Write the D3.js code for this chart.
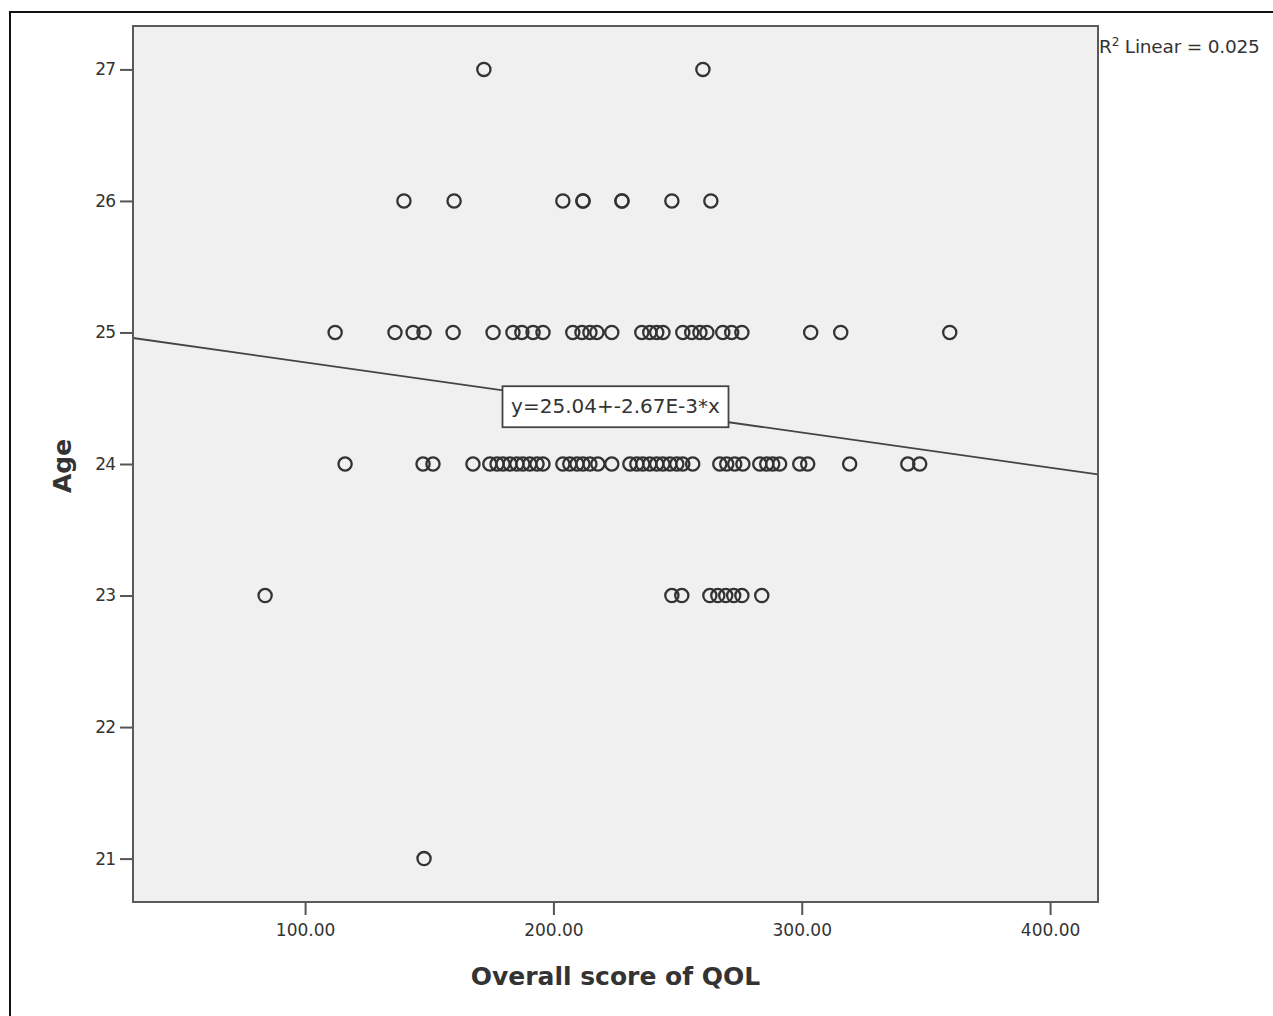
<!DOCTYPE html>
<html>
<head>
<meta charset="utf-8">
<script src="https://cdn.jsdelivr.net/npm/d3@7"></script>
<style>
  body { margin: 0; background: #fff; }
  text { font-family: "DejaVu Sans", sans-serif; fill: #333; }
</style>
</head>
<body>
<svg id="chart" width="1273" height="1016"></svg>
<script>
// QOL scores, grouped by age
var age27 = [172.0, 260.2];
var age26 = [139.8, 160.0, 203.8, 211.9, 211.9, 227.6, 227.6, 247.7, 263.4];
var age25 = [112.1, 136.2, 143.5, 147.9, 159.6, 175.7, 183.7, 187.3, 191.8, 195.8,
             207.8, 211.5, 214.7, 217.5, 223.5, 235.6, 238.8, 241.6, 244.1, 252.1,
             255.7, 259.0, 261.8, 268.2, 271.8, 275.9, 303.6, 315.7, 359.6];
var age24 = [116.1, 147.5, 151.5, 167.6, 174.4, 177.3, 179.7, 182.5, 185.3, 187.7,
             190.5, 193.4, 195.8, 203.8, 206.6, 209.5, 211.9, 214.7, 217.9, 223.5,
             230.8, 233.6, 236.0, 238.8, 241.6, 244.1, 246.9, 249.7, 252.1, 256.1,
             267.0, 269.8, 273.0, 276.3, 283.1, 285.9, 288.3, 291.1, 299.2, 302.4,
             319.3, 342.7, 347.5];
var age23 = [83.9, 247.7, 251.7, 263.0, 266.2, 269.4, 272.6, 275.9, 283.9];
var age21 = [147.9];

var xTicks = [100, 200, 300, 400];
var yTicks = [21, 22, 23, 24, 25, 26, 27];
var xDomain = [30.7, 419.3];
var yDomain = [20.67, 27.33];

// fit line: y = a + b*x
var fit = {a: 25.04, b: -2.67e-3};
var fitLabel = "y=25.04+-2.67E-3*x";
var fitLabelAt = 225;
var r2Text = "0.025";

var svg = d3.select('#chart');

var plot = {l: 133, r: 1098, t: 26, b: 902};

var xScale = d3.scaleLinear().domain(xDomain).range([plot.l, plot.r]);
var yScale = d3.scaleLinear().domain(yDomain).range([plot.b, plot.t]);

// outer figure frame (cut at the top of the page)
svg.append('path')
    .attr('d', 'M10,1016 L10,12 L1273,12')
    .attr('fill', 'none')
    .attr('stroke', '#111')
    .attr('stroke-width', 2);

// plot background
svg.append('rect')
    .attr('x', plot.l)
    .attr('y', plot.t)
    .attr('width', plot.r - plot.l)
    .attr('height', plot.b - plot.t)
    .attr('fill', '#f0f0f0');

var points = [];
[[27, age27], [26, age26], [25, age25], [24, age24], [23, age23], [21, age21]]
    .forEach(function(row) {
        row[1].forEach(function(q) { points.push({qol: q, age: row[0]}); });
    });

svg.append('clipPath').attr('id', 'plotClip')
    .append('rect')
    .attr('x', plot.l).attr('y', plot.t)
    .attr('width', plot.r - plot.l).attr('height', plot.b - plot.t);

// regression line
svg.append('line')
    .attr('clip-path', 'url(#plotClip)')
    .attr('x1', xScale(xDomain[0]))
    .attr('y1', yScale(fit.a + fit.b * xDomain[0]))
    .attr('x2', xScale(xDomain[1]))
    .attr('y2', yScale(fit.a + fit.b * xDomain[1]))
    .attr('stroke', '#444')
    .attr('stroke-width', 1.8);

// points
svg.selectAll('.pt')
    .data(points)
    .enter()
    .append('circle')
    .attr('class', 'pt')
    .attr('cx', function(d) { return xScale(d.qol); })
    .attr('cy', function(d) { return yScale(d.age); })
    .attr('r', 6.6)
    .attr('fill', 'none')
    .attr('stroke', '#333')
    .attr('stroke-width', 2.3);

// equation label
var lx = xScale(fitLabelAt);
var ly = yScale(fit.a + fit.b * fitLabelAt);
var labelG = svg.append('g').attr('transform', 'translate(' + lx + ',' + ly + ')');
labelG.append('rect')
    .attr('x', -113).attr('y', -20)
    .attr('width', 226).attr('height', 41)
    .attr('fill', '#fff')
    .attr('stroke', '#444')
    .attr('stroke-width', 1.8);
labelG.append('text')
    .attr('text-anchor', 'middle')
    .attr('dy', '0.36em')
    .style('font-size', '20px')
    .text(fitLabel);

// frame
svg.append('rect')
    .attr('x', plot.l)
    .attr('y', plot.t)
    .attr('width', plot.r - plot.l)
    .attr('height', plot.b - plot.t)
    .attr('fill', 'none')
    .attr('stroke', '#5a5a5a')
    .attr('stroke-width', 2);

// axes
var xAxis = svg.append('g')
    .attr('transform', 'translate(0,' + (plot.b + 1) + ')')
    .call(d3.axisBottom(xScale).tickValues(xTicks).tickSize(12).tickPadding(9)
        .tickFormat(d3.format('.2f')));
var yAxis = svg.append('g')
    .attr('transform', 'translate(' + (plot.l - 1) + ',0)')
    .call(d3.axisLeft(yScale).tickValues(yTicks).tickSize(12).tickPadding(5)
        .tickFormat(d3.format('d')));

[xAxis, yAxis].forEach(function(ax) {
    ax.select('.domain').remove();
    ax.selectAll('line').attr('stroke', '#555').attr('stroke-width', 2);
    ax.selectAll('text')
        .style('font-family', '"DejaVu Sans", sans-serif')
        .style('font-size', '17px')
        .attr('fill', '#333');
});
yAxis.selectAll('text').style('letter-spacing', '-1px');

// axis titles
svg.append('text')
    .attr('x', (plot.l + plot.r) / 2)
    .attr('y', 985)
    .attr('text-anchor', 'middle')
    .style('font-size', '25px')
    .style('font-weight', 'bold')
    .attr('fill', '#222')
    .text('Overall score of QOL');

svg.append('text')
    .attr('transform', 'translate(71,466) rotate(-90)')
    .attr('text-anchor', 'middle')
    .style('font-size', '25px')
    .style('font-weight', 'bold')
    .attr('fill', '#222')
    .text('Age');

// R2 note
var r2 = svg.append('text')
    .attr('x', 1099)
    .attr('y', 53)
    .style('font-size', '18.5px')
    .style('letter-spacing', '-0.2px');
r2.append('tspan').text('R');
r2.append('tspan').attr('dy', -7).style('font-size', '12px').text('2');
r2.append('tspan').attr('dy', 7).text(' Linear = ' + r2Text);
</script>
</body>
</html>
